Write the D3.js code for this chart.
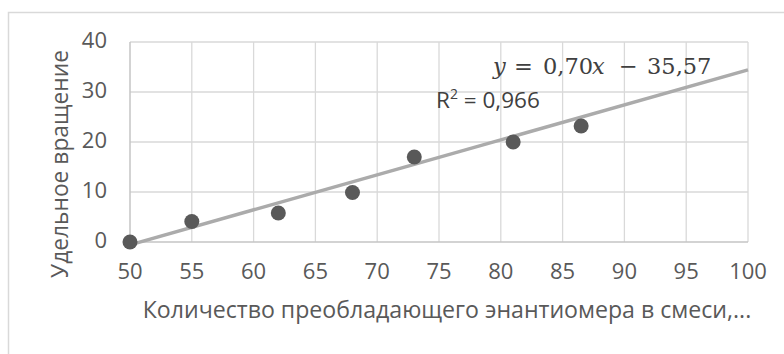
<!DOCTYPE html>
<html>
<head>
<meta charset="utf-8">
<style>
  body { margin: 0; background: #fff; }
  .tick-label { font-family: "Open Sans", "Liberation Sans", sans-serif; font-size: 22px; fill: #595959; }
  .axis-title { font-family: "Open Sans", "Liberation Sans", sans-serif; font-size: 23px; fill: #595959; }
</style>
</head>
<body>
<div id="chart"></div>
<script src="https://d3js.org/d3.v7.min.js"></script>
<script>
  // Data
  const xValues = [50, 55, 62, 68, 73, 81, 86.5];
  const yValues = [0, 4.1, 5.8, 9.9, 17, 20, 23.2];
  const xTicks = [50, 55, 60, 65, 70, 75, 80, 85, 90, 95, 100];
  const yTicks = [0, 10, 20, 30, 40];
  const trendSlope = 0.70;
  const trendIntercept = -35.57;
  const equationParts = ['y', '=', '0,70', 'x', '−', '35,57'];
  const r2Text = '0,966';
  const xTitle = 'Количество преобладающего энантиомера в смеси,...';
  const yTitle = 'Удельное вращение';

  const width = 784;
  const height = 354;
  const margin = { top: 42, right: 36, bottom: 112, left: 130 };

  const svg = d3.select('#chart')
    .append('svg')
    .attr('width', width)
    .attr('height', height);

  // outer chart frame (runs off the right and bottom of the picture)
  svg.append('rect')
    .attr('x', 8.5)
    .attr('y', 12.5)
    .attr('width', 800)
    .attr('height', 400)
    .attr('fill', 'none')
    .attr('stroke', '#d9d9d9')
    .attr('stroke-width', 1.5);

  const x = d3.scaleLinear()
    .domain([50, 100])
    .range([margin.left, width - margin.right]);

  const y = d3.scaleLinear()
    .domain([0, 40])
    .range([height - margin.bottom, margin.top]);

  // gridlines
  svg.append('g')
    .selectAll('line')
    .data(yTicks.slice(1))
    .enter()
    .append('line')
    .attr('x1', x(50)).attr('x2', x(100))
    .attr('y1', d => y(d)).attr('y2', d => y(d))
    .attr('stroke', '#d9d9d9')
    .attr('stroke-width', 1.3);

  svg.append('g')
    .selectAll('line')
    .data(xTicks.slice(1))
    .enter()
    .append('line')
    .attr('x1', d => x(d)).attr('x2', d => x(d))
    .attr('y1', y(0)).attr('y2', y(40))
    .attr('stroke', '#d9d9d9')
    .attr('stroke-width', 1.3);

  // axis lines
  svg.append('line')
    .attr('x1', x(50)).attr('x2', x(100))
    .attr('y1', y(0)).attr('y2', y(0))
    .attr('stroke', '#c4c4c4')
    .attr('stroke-width', 1.5);
  svg.append('line')
    .attr('x1', x(50)).attr('x2', x(50))
    .attr('y1', y(0)).attr('y2', y(40))
    .attr('stroke', '#c4c4c4')
    .attr('stroke-width', 1.5);

  // tick labels
  svg.append('g')
    .selectAll('text')
    .data(xTicks)
    .enter()
    .append('text')
    .attr('class', 'tick-label')
    .attr('x', d => x(d))
    .attr('y', y(0) + 31)
    .attr('dominant-baseline', 'middle')
    .attr('text-anchor', 'middle')
    .text(d => d);

  svg.append('g')
    .selectAll('text')
    .data(yTicks)
    .enter()
    .append('text')
    .attr('class', 'tick-label')
    .attr('x', x(50) - 23)
    .attr('y', d => y(d))
    .attr('dominant-baseline', 'middle')
    .attr('text-anchor', 'end')
    .text(d => d);

  // axis titles, sized to the width they take in the original
  const xt = svg.append('text')
    .attr('class', 'axis-title')
    .attr('x', 447)
    .attr('y', 312)
    .attr('dominant-baseline', 'middle')
    .attr('text-anchor', 'middle')
    .text(xTitle);
  xt.style('font-size', (23 * 609 / xt.node().getComputedTextLength()) + 'px');

  const yt = svg.append('text')
    .attr('class', 'axis-title')
    .attr('transform', 'rotate(-90)')
    .attr('x', -164)
    .attr('y', 62)
    .attr('dominant-baseline', 'middle')
    .attr('text-anchor', 'middle')
    .text(yTitle);
  yt.style('font-size', (23 * 228 / yt.node().getComputedTextLength()) + 'px');

  // trendline
  svg.append('line')
    .attr('x1', x(50)).attr('y1', y(trendSlope * 50 + trendIntercept))
    .attr('x2', x(100)).attr('y2', y(trendSlope * 100 + trendIntercept))
    .attr('stroke', '#ababab')
    .attr('stroke-width', 3.5);

  // points
  svg.append('g')
    .selectAll('circle')
    .data(xValues.map((d, i) => ({ x: d, y: yValues[i] })))
    .enter()
    .append('circle')
    .attr('cx', d => x(d.x))
    .attr('cy', d => y(d.y))
    .attr('r', 7.5)
    .attr('fill', '#595959');

  // equation label, math-style spacing like the office equation editor
  const eqX = [493, 514, 543, 592, 619, 647];
  const eq = svg.append('text')
    .attr('y', 74)
    .attr('font-family', '"DejaVu Serif", "Liberation Serif", serif')
    .attr('font-size', 22.5)
    .attr('fill', '#404040');
  equationParts.forEach((t, i) => {
    eq.append('tspan')
      .attr('x', eqX[i])
      .attr('font-style', (t === 'x' || t === 'y') ? 'italic' : 'normal')
      .text(t);
  });

  const r2 = svg.append('text')
    .attr('x', 436)
    .attr('y', 108)
    .attr('font-family', '"Open Sans", "Liberation Sans", sans-serif')
    .attr('font-size', 22.5)
    .attr('fill', '#404040');
  r2.append('tspan').text('R');
  r2.append('tspan').attr('font-size', 14).attr('dy', -9).text('2');
  r2.append('tspan').attr('dy', 9).text(' = ' + r2Text);
</script>
</body>
</html>
